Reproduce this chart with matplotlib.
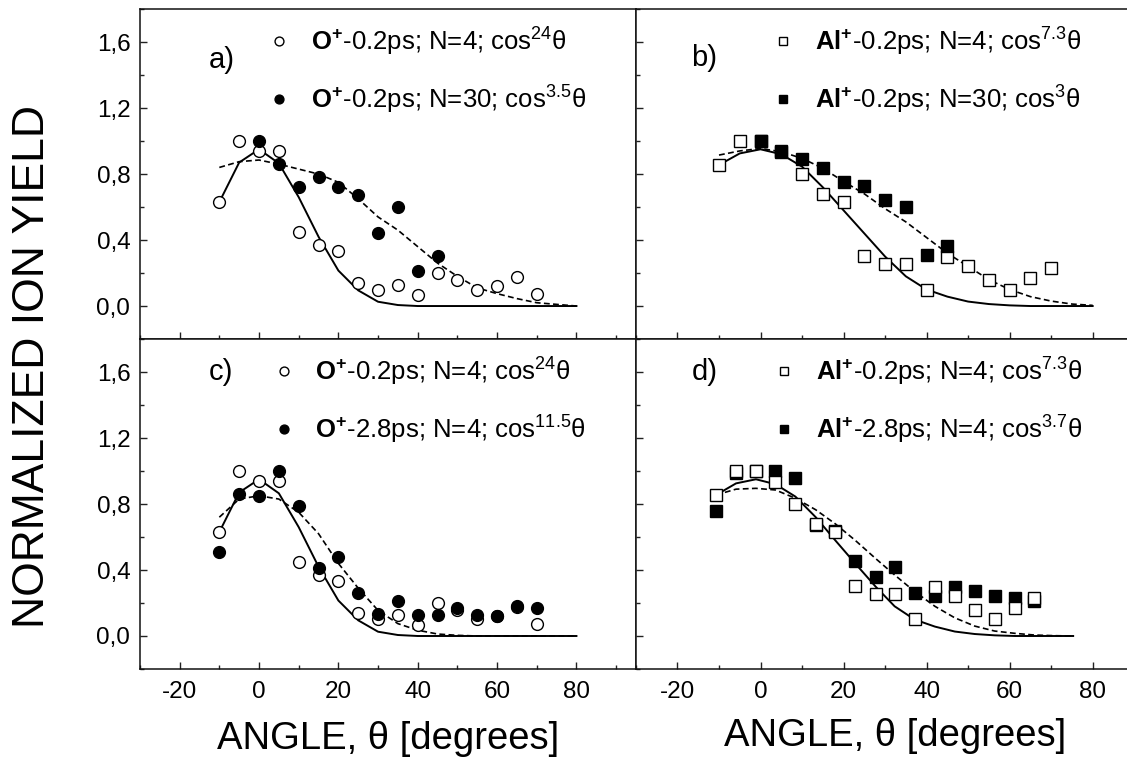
import matplotlib
matplotlib.use("Agg")
import matplotlib.pyplot as plt
from matplotlib.ticker import MultipleLocator, FuncFormatter

plt.rcParams["font.family"] = ["Liberation Sans", "DejaVu Sans"]
plt.rcParams["mathtext.fontset"] = "custom"
plt.rcParams["mathtext.rm"] = "Liberation Sans"
plt.rcParams["mathtext.bf"] = "Liberation Sans:bold"
plt.rcParams["mathtext.it"] = "Liberation Sans:italic"
plt.rcParams["axes.unicode_minus"] = False

# measured angles (degrees)
ang = [-10, -5, 0, 5, 10, 15, 20, 25, 30, 35, 40, 45, 50, 55, 60, 65, 70]
ang_n30 = [0, 5, 10, 15, 20, 25, 30, 35, 40, 45]
ang_fit = [-10, -5, 0, 5, 10, 15, 20, 25, 30, 35, 40, 45, 50, 55, 60, 65, 70, 75, 80]
# panel d is shifted/compressed slightly in the original
ang_d = [-10.7, -5.9, -1.1, 3.6, 8.4, 13.3, 18.0, 22.8, 27.7, 32.3, 37.1, 42.0,
         46.8, 51.6, 56.4, 61.3, 65.9]
ang_d_fit = [-10.7, -5.9, -1.1, 3.6, 8.4, 13.3, 18.0, 22.8, 27.7, 32.3, 37.1, 42.0,
             46.8, 51.6, 56.4, 61.3, 65.9, 70.6, 75.3]

# O+ yields
o_02_n4 = [0.63, 1.00, 0.94, 0.94, 0.45, 0.37, 0.335, 0.14, 0.10, 0.13, 0.065,
           0.20, 0.155, 0.10, 0.12, 0.175, 0.075]
o_02_n30 = [1.00, 0.86, 0.72, 0.78, 0.72, 0.67, 0.44, 0.60, 0.21, 0.305]
o_28_n4 = [0.51, 0.86, 0.85, 1.00, 0.79, 0.415, 0.48, 0.26, 0.135, 0.215, 0.125,
           0.125, 0.17, 0.125, 0.12, 0.18, 0.17]
fit_o_cos24 = [0.63, 0.87, 0.95, 0.865, 0.66, 0.42, 0.215, 0.095, 0.026, 0.006,
               0, 0, 0, 0, 0, 0, 0, 0, 0]
fit_o_cos35 = [0.84, 0.875, 0.885, 0.86, 0.83, 0.80, 0.75, 0.65, 0.54, 0.46, 0.36,
               0.26, 0.18, 0.11, 0.075, 0.045, 0.02, 0.01, 0.0]
fit_o_cos115 = [0.72, 0.83, 0.85, 0.83, 0.75, 0.62, 0.44, 0.29, 0.155, 0.075,
                0.035, 0.012, 0.004, 0, 0, 0, 0, 0, 0]

# Al+ yields
al_02_n4 = [0.855, 1.00, 1.00, 0.935, 0.80, 0.68, 0.63, 0.305, 0.255, 0.255, 0.10,
            0.30, 0.245, 0.16, 0.10, 0.17, 0.23]
al_02_n30 = [1.00, 0.94, 0.89, 0.835, 0.75, 0.73, 0.645, 0.60, 0.31, 0.365]
al_28_n4 = [0.755, 0.99, 1.00, 1.00, 0.96, 0.675, 0.635, 0.455, 0.36, 0.42, 0.26,
            0.24, 0.295, 0.275, 0.24, 0.23, 0.21]
fit_al_cos73 = [0.855, 0.925, 0.95, 0.92, 0.845, 0.72, 0.58, 0.44, 0.30, 0.18,
                0.10, 0.057, 0.027, 0.012, 0.004, 0, 0, 0, 0]
fit_al_cos3 = [0.915, 0.94, 0.955, 0.935, 0.895, 0.835, 0.755, 0.68, 0.59, 0.51,
               0.415, 0.32, 0.24, 0.16, 0.10, 0.057, 0.03, 0.012, 0.004]
fit_al_cos37 = [0.855, 0.89, 0.895, 0.885, 0.835, 0.765, 0.68, 0.58, 0.47, 0.37,
                0.27, 0.18, 0.11, 0.06, 0.03, 0.016, 0.006, 0.002, 0]

O = r"$\mathbf{O}^{\mathbf{+}}$"
AL = r"$\mathbf{Al}^{\mathbf{+}}$"

fig = plt.figure(figsize=(11.27, 7.61), dpi=100)
ax_a = fig.add_axes([0.1242, 0.5545, 0.4401, 0.4336])
ax_b = fig.add_axes([0.5643, 0.5545, 0.4605, 0.4336])
ax_c = fig.add_axes([0.1242, 0.1209, 0.4401, 0.4336])
ax_d = fig.add_axes([0.5643, 0.1209, 0.4605, 0.4336])

comma = FuncFormatter(lambda v, p: f"{v:.1f}".replace(".", ","))

for ax in (ax_a, ax_b, ax_c, ax_d):
    ax.set_xlim(-30, 95)
    ax.set_ylim(-0.2, 1.8)
    ax.xaxis.set_major_locator(MultipleLocator(20))
    ax.xaxis.set_minor_locator(MultipleLocator(10))
    ax.yaxis.set_major_locator(MultipleLocator(0.4))
    ax.yaxis.set_minor_locator(MultipleLocator(0.2))
    ax.yaxis.set_major_formatter(comma)
    ax.tick_params(which="both", direction="in", top=False, right=False,
                   width=1.0, color="#222222", labelsize=17.5)
    ax.tick_params(which="major", length=5)
    ax.tick_params(which="minor", length=3)
    ax.tick_params(axis="x", pad=9)
    ax.tick_params(axis="y", pad=7)
    for s in ax.spines.values():
        s.set_linewidth(1.1)
        s.set_color("#111111")

ax_a.tick_params(labelbottom=False)
ax_b.tick_params(labelbottom=False, labelleft=False)
ax_d.tick_params(labelleft=False)

solid = dict(color="black", lw=1.4, ls="-")
dashed = dict(color="black", lw=1.2, ls=(0, (3.5, 2)))
open_c = dict(ls="none", marker="o", ms=8.5, mfc="white", mec="black", mew=1.0)
fill_c = dict(ls="none", marker="o", ms=8.5, mfc="black", mec="black", mew=1.0)
open_s = dict(ls="none", marker="s", ms=8.0, mfc="white", mec="black", mew=1.0)
fill_s = dict(ls="none", marker="s", ms=8.0, mfc="black", mec="black", mew=1.0)

leg_kw = dict(frameon=False, loc="upper left", fontsize=18.5, handlelength=0.75,
              handletextpad=0.85, borderpad=0, borderaxespad=0, labelspacing=1.0,
              markerscale=0.75)

# a)
ax_a.plot(ang_fit, fit_o_cos24, **solid)
ax_a.plot(ang_fit, fit_o_cos35, **dashed)
h1, = ax_a.plot(ang, o_02_n4, **open_c)
h2, = ax_a.plot(ang_n30, o_02_n30, **fill_c)
ax_a.legend([h1, h2], [O + "-0.2ps; N=4; cos$^{24}$θ", O + "-0.2ps; N=30; cos$^{3.5}$θ"],
            bbox_to_anchor=(0.261, 0.95), **leg_kw)
ax_a.text(0.165, 0.845, "a)", transform=ax_a.transAxes, fontsize=21,
          ha="center", va="center")

# b)
ax_b.plot(ang_fit, fit_al_cos73, **solid)
ax_b.plot(ang_fit, fit_al_cos3, **dashed)
h1, = ax_b.plot(ang, al_02_n4, **open_s)
h2, = ax_b.plot(ang_n30, al_02_n30, **fill_s)
ax_b.legend([h1, h2], [AL + "-0.2ps; N=4; cos$^{7.3}$θ", AL + "-0.2ps; N=30; cos$^{3}$θ"],
            bbox_to_anchor=(0.265, 0.95), **leg_kw)
ax_b.text(0.131, 0.852, "b)", transform=ax_b.transAxes, fontsize=21,
          ha="center", va="center")

# c)
ax_c.plot(ang_fit, fit_o_cos24, **solid)
ax_c.plot(ang_fit, fit_o_cos115, **dashed)
h1, = ax_c.plot(ang, o_02_n4, **open_c)
h2, = ax_c.plot(ang, o_28_n4, **fill_c)
ax_c.legend([h1, h2], [O + "-0.2ps; N=4; cos$^{24}$θ", O + "-2.8ps; N=4; cos$^{11.5}$θ"],
            bbox_to_anchor=(0.271, 0.95), **leg_kw)
ax_c.text(0.163, 0.9, "c)", transform=ax_c.transAxes, fontsize=21,
          ha="center", va="center")

# d)
ax_d.plot(ang_d_fit, fit_al_cos73, **solid)
ax_d.plot(ang_d_fit, fit_al_cos37, **dashed)
h2, = ax_d.plot(ang_d, al_28_n4, **fill_s)
h1, = ax_d.plot(ang_d, al_02_n4, **open_s)
ax_d.legend([h1, h2], [AL + "-0.2ps; N=4; cos$^{7.3}$θ", AL + "-2.8ps; N=4; cos$^{3.7}$θ"],
            bbox_to_anchor=(0.267, 0.95), **leg_kw)
ax_d.text(0.133, 0.9, "d)", transform=ax_d.transAxes, fontsize=21,
          ha="center", va="center")

ax_c.text(0.5, -0.213, "ANGLE, θ [degrees]", transform=ax_c.transAxes,
          fontsize=27.5, ha="center", va="center")
ax_d.text(0.5, -0.203, "ANGLE, θ [degrees]", transform=ax_d.transAxes,
          fontsize=27.5, ha="center", va="center")
fig.text(0.029, 0.519, "NORMALIZED ION YIELD", rotation=90, fontsize=32,
         ha="center", va="center")

fig.savefig("out.png", dpi=100)
plt.close(fig)
